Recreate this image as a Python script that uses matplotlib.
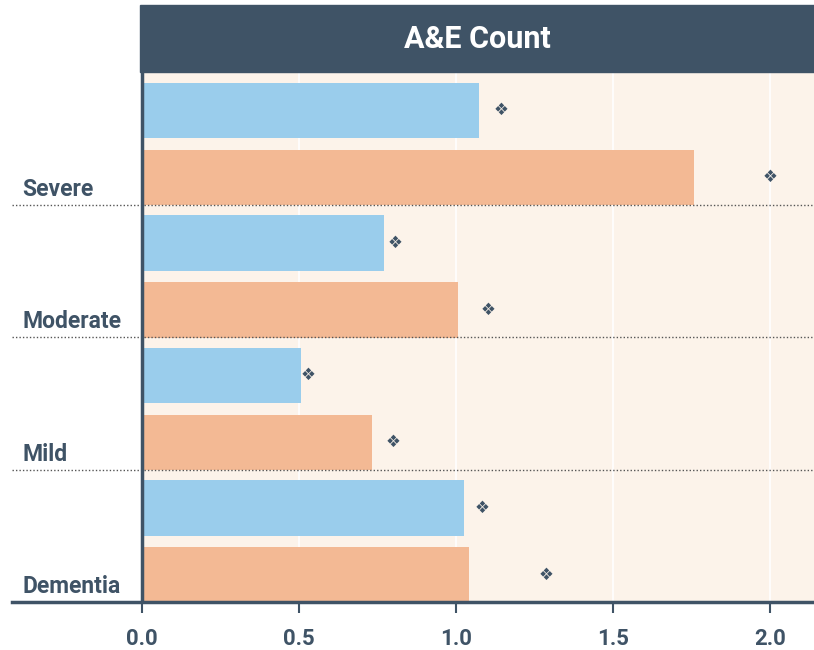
import numpy as np
import matplotlib.pyplot as plt
from matplotlib.patches import Rectangle

# A&E 就诊次数：每个组别两条柱 + 参考点
categories = ['Severe', 'Moderate', 'Mild', 'Dementia']
blue_values = [1.073, 0.771, 0.506, 1.025]
orange_values = [1.758, 1.006, 0.732, 1.041]
blue_marks = [1.143, 0.806, 0.529, 1.083]
orange_marks = [2.0, 1.102, 0.799, 1.287]
tick_values = [0.0, 0.5, 1.0, 1.5, 2.0]
tick_labels = ['0.0', '0.5', '1.0', '1.5', '2.0']

DARK = '#3f5366'
BLUE = '#9acdec'
ORANGE = '#f3b994'
PEACH = '#fcf3ea'

plt.rcParams['font.family'] = ['Roboto', 'DejaVu Sans']

fig = plt.figure(figsize=(8.14, 6.5), dpi=100)
ax = fig.add_axes([12 / 814, 48 / 650, 802 / 814, 530 / 650])

x_left, x_right = -0.414, 2.14
ax.set_xlim(x_left, x_right)
ax.set_ylim(len(categories), 0)

# 背景和网格
ax.axvspan(0, x_right, color=PEACH, zorder=0, lw=0)
for t in tick_values[1:]:
    ax.axvline(t, color='white', lw=1.2, zorder=1)

pos = np.arange(len(categories))
bar_h = 0.42
ax.barh(pos + 0.29, blue_values, height=bar_h, color=BLUE, zorder=2)
ax.barh(pos + 0.795, orange_values, height=bar_h, color=ORANGE, zorder=2)

for i in range(len(categories)):
    ax.text(blue_marks[i], pos[i] + 0.29, '\u2756', ha='center', va='center',
            fontsize=12, color=DARK, family=['DejaVu Sans'], zorder=4)
    ax.text(orange_marks[i], pos[i] + 0.795, '\u2756', ha='center', va='center',
            fontsize=12, color=DARK, family=['DejaVu Sans'], zorder=4)
    # 分类标签 + 虚线分隔
    ax.text(-0.382, pos[i] + 0.97, categories[i], ha='left', va='bottom',
            fontsize=16.5, fontweight='bold', color=DARK, zorder=4)
    if i < len(categories) - 1:
        ax.axhline(pos[i] + 1, color='#555555', lw=1, ls=(0, (1, 1.5)), zorder=3)

ax.axvline(0, color=DARK, lw=2.5, zorder=5)

for side in ['top', 'right', 'left']:
    ax.spines[side].set_visible(False)
ax.spines['bottom'].set_color(DARK)
ax.spines['bottom'].set_linewidth(2.5)
ax.spines['bottom'].set_zorder(6)

ax.set_yticks([])
ax.set_xticks(tick_values)
ax.set_xticklabels(tick_labels, fontsize=16, fontweight='bold', color=DARK)
ax.tick_params(axis='x', direction='out', length=8, width=1.5, color=DARK, pad=11)

# 标题栏
fig.patches.append(Rectangle((140 / 814, 1 - 72 / 650), 674 / 814, 67 / 650,
                             transform=fig.transFigure, color=DARK, zorder=0))
fig.text((140 + 814) / 2 / 814, 1 - 39 / 650, 'A&E Count', ha='center', va='center',
         fontsize=22, fontweight='bold', color='white')

fig.savefig('out.png', dpi=100)
plt.close()
